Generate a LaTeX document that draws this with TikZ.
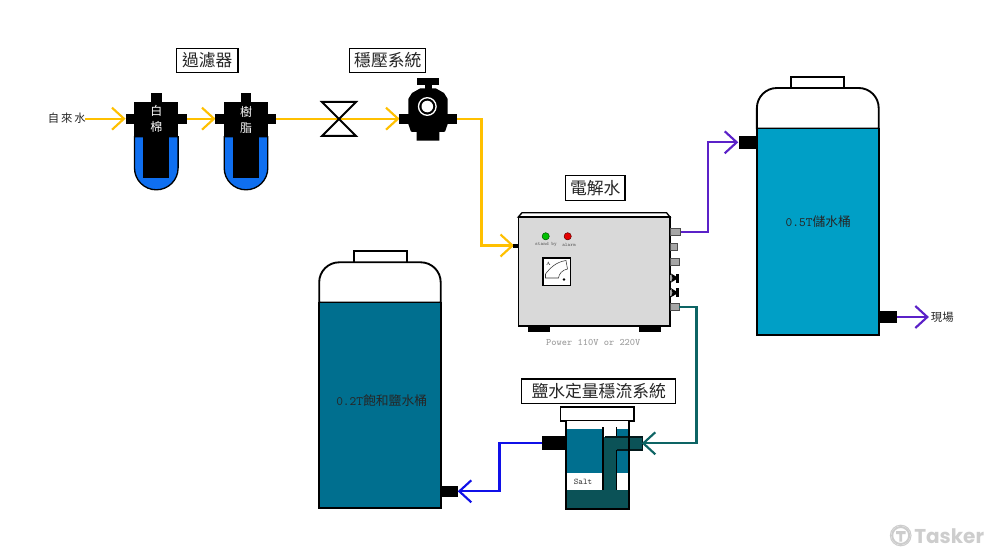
\documentclass[tikz,border=0pt]{standalone}
\usepackage{fontspec}
\newfontfamily\cjk{Noto Sans CJK TC}
\newfontfamily\logofont{Poppins}[Scale=1]
\tikzset{
  x=0.75pt,y=-0.75pt,
  lbl/.style={draw=black,line width=0.8pt,fill=white,inner sep=0pt,font=\cjk\fontsize{12.6}{14}\selectfont,text=black!85},
  flow/.style={line width=1.6pt,line join=miter},
  chev/.style={line width=1.6pt},
  tanktext/.style={inner sep=0pt,font=\fontsize{9.6}{11}\selectfont,text=black!85},
  tiny/.style={inner sep=0pt,font=\cjk\fontsize{8.5}{10}\selectfont,text=black!85},
  wtext/.style={inner sep=0pt,font=\cjk\fontsize{9}{10}\selectfont,text=white},
  tankline/.style={draw=black,line width=1.4pt},
}
\definecolor{yel}{HTML}{FFC000}
\definecolor{pur}{HTML}{5B21C8}
\definecolor{tl}{HTML}{0D6464}
\definecolor{blu}{HTML}{1010E8}
\definecolor{wa}{HTML}{009FC6}
\definecolor{wb}{HTML}{006F8F}
\definecolor{dteal}{HTML}{0B5257}
\definecolor{fb}{HTML}{0F6FF0}
\definecolor{gbox}{HTML}{D9D9D9}
\definecolor{logo}{HTML}{CDCDCD}
\newcommand{\filterunit}[1]{%
  \begin{scope}[xshift=#1*0.75pt]
    \fill[black] (125.5,113.7) rectangle (186.5,124);
    \fill[black] (151,92.7) rectangle (161.5,102);
    \fill[black] (134,101.7) rectangle (178.3,136.7);
    \draw[fill=fb,draw=black,line width=1pt] (134.5,136.7) -- (134.5,168) arc[start angle=180,end angle=0,radius=21.8] -- (178.1,136.7) -- cycle;
    \fill[black] (143.3,136) rectangle (169.3,178);
  \end{scope}}
\newcommand{\chevr}[3]{\draw[chev,#3] (#1-12,#2-11) -- (#1,#2) -- (#1-12,#2+11);}
\newcommand{\chevl}[3]{\draw[chev,#3] (#1+12,#2-11) -- (#1,#2) -- (#1+12,#2+11);}
\begin{document}
\begin{tikzpicture}
\useasboundingbox (0,0) rectangle (1000,556);
\fill[white] (0,0) rectangle (1000,556);

\coordinate (srcw) at (85,118.7);
\coordinate (f1in) at (124,118.7);
\coordinate (f1out) at (186.5,118.7);
\coordinate (f2in) at (214,118.7);
\coordinate (f2out) at (276,118.7);
\coordinate (pvin) at (398,118.7);
\coordinate (pvout) at (456,118.7);
\coordinate (bend1) at (481.5,118.7);
\coordinate (bend2) at (481.5,245.5);
\coordinate (elin) at (512.5,245.5);

\draw[flow,yel] (srcw) -- (f1in);
\draw[flow,yel] (f1out) -- (f2in);
\draw[flow,yel] (f2out) -- (pvin);
\draw[flow,yel] (pvout) -- (bend1) -- (bend2) -- (elin);
\chevr{124}{118.7}{yel}
\chevr{214}{118.7}{yel}
\chevr{398}{118.7}{yel}
\chevr{512.5}{245.5}{yel}

\filterunit{0}
\filterunit{89.7}
\node[wtext] (t1) at (156.3,111) {白};
\node[wtext] (t2) at (156.3,127) {棉};
\node[wtext] (t3) at (246,112) {樹};
\node[wtext] (t4) at (246,127.7) {脂};
\node[tiny,text width=40pt,align=center] (src) at (66.7,117.7) {自\,來\,水};

\draw[black,line width=1.5pt,line join=miter] (322,102) -- (356,102) -- (322,136) -- (356,136) -- cycle;

\fill[black] (416.7,78.3) rectangle (439,85);
\fill[black] (424.5,85) rectangle (431.5,91);
\fill[black] (408.3,124) -- (408.3,99) -- (412,93) -- (420,88.5) -- (436,88.5) -- (444,93) -- (447.7,99) -- (447.7,124) -- (445,131.7) -- (439.3,132) -- (439.3,140.7) -- (416.7,140.7) -- (416.7,132) -- (411,131.7) -- cycle;
\fill[black] (399.3,113.7) rectangle (456.7,124);
\draw[white,line width=1pt] (427.3,106.5) circle[radius=8.8];
\fill[white] (427.3,106.5) circle[radius=5.8];

\fill[black] (527.7,322) rectangle (550,332.3);
\fill[black] (639,322) rectangle (661,332.3);
\draw[black,fill=white,line width=1pt] (518.3,217) -- (522,212.7) -- (666.5,212.7) -- (670,217) -- cycle;
\draw[black,fill=gbox,line width=1.4pt] (518.5,216.7) rectangle (669.7,325.7);
\fill[black] (513.3,244) rectangle (518.3,248);
\draw[black!60!green!90!black,fill=green!75!black] (545.7,236.3) circle[radius=3.6];
\draw[black!60!red,fill=red!90!black] (567.7,236.3) circle[radius=3.6];
\node[inner sep=0pt,font=\ttfamily\fontsize{3.8}{5}\selectfont,text=black!65] (sb) at (546,244.7) {stand by};
\node[inner sep=0pt,font=\ttfamily\fontsize{3.8}{5}\selectfont,text=black!65] (al) at (569,244.7) {alarm};
\draw[black,fill=white,line width=1.4pt] (542.8,257.8) rectangle (570.5,285.5);
\draw[black!80,line width=0.4pt,fill=white] (545.5,278) -- (545.5,274) .. controls (550,268) and (556,262) .. (566,260.5) -- (567.5,269) .. controls (562,270) and (559,274) .. (558.5,278) -- cycle;
\fill[black] (564,279.5) circle[radius=1.4];
\node[inner sep=0pt,font=\fontsize{3.5}{4}\selectfont] (met) at (548.5,263.5) {A};
\foreach \yy/\xe in {231.7/680.7,246.7/677.5,261.7/679,307/679}{
  \draw[black!70,fill=gray!70,line width=0.5pt] (670,\yy-3.8) rectangle (\xe,\yy+3.8);
}
\foreach \yy in {278,292.7}{
  \fill[gray!70] (670,\yy-3) rectangle (674,\yy+3);
  \fill[black] (671,\yy-4.5) -- (676,\yy-1.5) -- (676,\yy+1.5) -- (671,\yy+4.5) -- (672.5,\yy) -- cycle;
  \fill[black] (675.5,\yy-4.5) rectangle (679,\yy+4.5);
}
\node[inner sep=0pt,font=\ttfamily\fontsize{7.4}{9}\selectfont,text=black!40] (pw) at (593.3,342) {Power 110V or 220V};

\coordinate (p1s) at (680.7,231.7);
\coordinate (p1b) at (708.3,231.7);
\coordinate (p1c) at (708.3,142.3);
\coordinate (p1e) at (736.7,142.3);
\draw[flow,pur] (p1s) -- (p1b) -- (p1c) -- (p1e);
\chevr{736.7}{142.3}{pur}

\fill[black] (739.3,136) rectangle (757,149.3);
\draw[tankline,fill=white] (791.3,88) -- (791.3,76.7) -- (844.3,76.7) -- (844.3,88);
\draw[tankline,fill=white] (756.9,128.5) -- (756.9,108) arc[start angle=180,end angle=270,radius=20] -- (858.7,88) arc[start angle=270,end angle=360,radius=20] -- (878.7,128.5) -- cycle;
\draw[tankline,fill=wa] (756.9,128.5) rectangle (878.7,334.7);
\fill[black] (878.7,310.7) rectangle (896.7,323.3);
\node[tanktext] (tk1) at (818.3,221.3) {\ttfamily 0.5T\cjk 儲水桶};
\coordinate (o1s) at (896.7,317);
\coordinate (o1e) at (927.3,317);
\draw[flow,pur] (o1s) -- (o1e);
\chevr{927.3}{317}{pur}
\node[tiny] (xc) at (942.3,317) {現場};

\draw[tankline,fill=white] (353.7,262.3) -- (353.7,251) -- (406.7,251) -- (406.7,262.3);
\draw[tankline,fill=white] (319.2,302.5) -- (319.2,282.3) arc[start angle=180,end angle=270,radius=20] -- (420.7,262.3) arc[start angle=270,end angle=360,radius=20] -- (440.7,302.5) -- cycle;
\draw[tankline,fill=wb] (319.2,302.5) rectangle (440.7,508.3);
\fill[black] (440.7,485.7) rectangle (458,497.3);
\node[tanktext] (tk2) at (381.7,400.7) {\ttfamily 0.2T\cjk 飽和鹽水桶};

\draw[tankline,fill=white] (560.5,407) rectangle (633.8,420.7);
\fill[white] (566,421) rectangle (629,509);
\fill[wb] (567,429.3) rectangle (602.5,472.7);
\fill[wb] (617,429.3) rectangle (628,472.7);
\fill[dteal] (566,490) rectangle (629,509);
\fill[dteal] (602.5,437) rectangle (616.7,490);
\fill[dteal] (605,437) rectangle (642.3,450);
\draw[black,line width=1.6pt] (603.3,427) -- (603.3,490);
\draw[black,line width=1pt] (616.5,427) -- (616.5,437);
\draw[black,line width=1pt] (616.5,450) -- (616.5,490);
\draw[black!70!dteal,line width=0.8pt] (605,437) -- (642.3,437) -- (642.3,450) -- (616.5,450);
\draw[black,line width=1.4pt] (566,420.7) -- (566,508.8) -- (629,508.8) -- (629,420.7);
\fill[black] (542.3,435.7) rectangle (566,450.3);
\node[inner sep=0pt,font=\ttfamily\fontsize{6.5}{8}\selectfont,text=black!80] (salt) at (583,481.7) {Salt};

\coordinate (t1s) at (679,307);
\coordinate (t1b) at (696.5,307);
\coordinate (t1c) at (696.5,443.3);
\coordinate (t1e) at (643.3,443.3);
\draw[flow,tl] (t1s) -- (t1b) -- (t1c) -- (t1e);
\chevl{643.3}{443.3}{tl}
\coordinate (b1s) at (542.3,443.3);
\coordinate (b1b) at (499.5,443.3);
\coordinate (b1c) at (499.5,491.3);
\coordinate (b1e) at (459.3,491.3);
\draw[flow,blu] (b1s) -- (b1b) -- (b1c) -- (b1e);
\chevl{459.3}{491.3}{blu}

\node[lbl,minimum width=46pt,minimum height=18.5pt] (l1) at (207.3,60.5) {過濾器};
\node[lbl,minimum width=57pt,minimum height=18.5pt] (l2) at (387.8,60.5) {穩壓系統};
\node[lbl,minimum width=44.5pt,minimum height=18.5pt] (l3) at (595.3,188.3) {電解水};
\node[lbl,minimum width=115.5pt,minimum height=18.3pt] (l4) at (598.7,391.2) {鹽水定量穩流系統};

\draw[logo,line width=1.5pt] (900.7,535.5) circle[radius=8.5];
\draw[logo,line width=0.8pt] (900.7,535.5) circle[radius=10.3];
\fill[logo] (896,531) rectangle (905.5,534) (899.3,534) rectangle (902.1,541.5);
\node[inner sep=0pt,anchor=west,font=\logofont\bfseries\fontsize{15}{16}\selectfont,text=logo] (lg) at (914,536) {Tasker};
\end{tikzpicture}
\end{document}
